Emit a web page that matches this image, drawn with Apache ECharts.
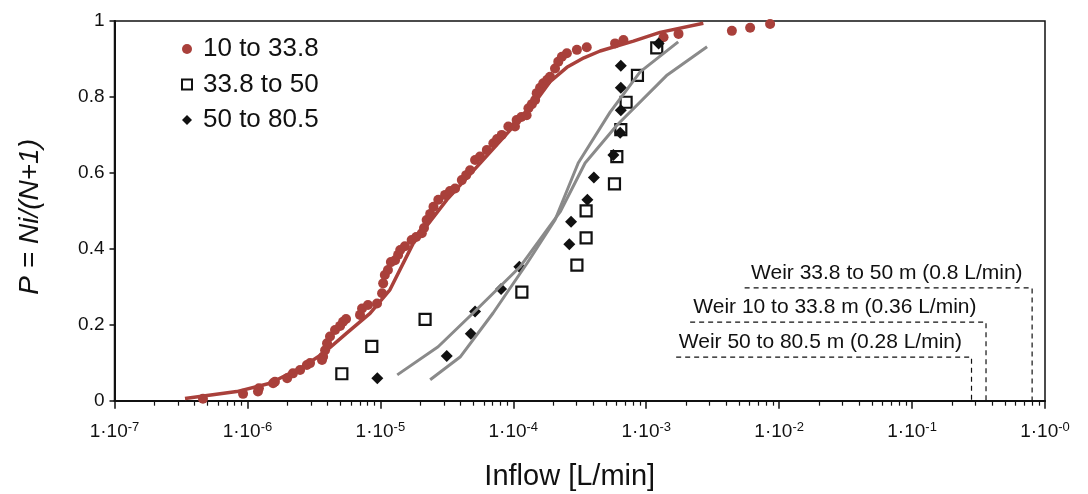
<!DOCTYPE html>
<html>
<head>
<meta charset="utf-8">
<script src="https://cdn.jsdelivr.net/npm/echarts@6/dist/echarts.min.js"></script>
<style>
    html, body { margin: 0; padding: 0; background: #fff; }
    #inflow_chart { width: 1088px; height: 494px; }
</style>
</head>
<body>
<div id="inflow_chart"></div>
<script>
// measured inflow [L/min] vs P = Ni/(N+1), per depth interval
let points10to338 = [
    [4.63e-7, 0.005], [9.27e-7, 0.018], [1.20e-6, 0.024], [1.22e-6, 0.033], [1.56e-6, 0.046],
    [1.61e-6, 0.050], [1.99e-6, 0.059], [2.20e-6, 0.072], [2.49e-6, 0.081], [2.80e-6, 0.094],
    [2.96e-6, 0.099], [3.64e-6, 0.107], [3.71e-6, 0.116], [3.84e-6, 0.133], [3.97e-6, 0.151],
    [4.18e-6, 0.169], [4.56e-6, 0.186], [4.98e-6, 0.197], [5.24e-6, 0.208], [5.52e-6, 0.215],
    [7.03e-6, 0.226], [7.28e-6, 0.243], [8.07e-6, 0.252], [9.44e-6, 0.256], [1.03e-5, 0.283],
    [1.05e-5, 0.309], [1.08e-5, 0.331], [1.14e-5, 0.344], [1.20e-5, 0.365], [1.29e-5, 0.370],
    [1.36e-5, 0.384], [1.41e-5, 0.397], [1.53e-5, 0.407], [1.72e-5, 0.423], [1.86e-5, 0.431],
    [2.05e-5, 0.441], [2.13e-5, 0.455], [2.23e-5, 0.476], [2.37e-5, 0.492], [2.51e-5, 0.511],
    [2.73e-5, 0.529], [3.07e-5, 0.542], [3.34e-5, 0.552], [3.65e-5, 0.559], [4.10e-5, 0.581],
    [4.42e-5, 0.594], [4.73e-5, 0.607], [5.16e-5, 0.634], [5.62e-5, 0.643], [6.32e-5, 0.660],
    [7.08e-5, 0.678], [7.55e-5, 0.689], [8.19e-5, 0.700], [9.18e-5, 0.722], [1.03e-4, 0.722],
    [1.06e-4, 0.739], [1.15e-4, 0.747], [1.26e-4, 0.752], [1.30e-4, 0.770], [1.38e-4, 0.781],
    [1.46e-4, 0.792], [1.50e-4, 0.810], [1.59e-4, 0.824], [1.68e-4, 0.836], [1.80e-4, 0.845],
    [1.89e-4, 0.853], [2.06e-4, 0.875], [2.18e-4, 0.893], [2.32e-4, 0.906], [2.53e-4, 0.915],
    [3.01e-4, 0.924], [3.57e-4, 0.931], [5.83e-4, 0.941], [6.74e-4, 0.950], [1.35e-3, 0.957],
    [1.75e-3, 0.966], [4.41e-3, 0.974], [6.05e-3, 0.982], [8.55e-3, 0.992]
];
let points338to50 = [
    [5.13e-6, 0.071], [8.62e-6, 0.143], [2.17e-5, 0.214], [1.16e-4, 0.286], [3.01e-4, 0.357],
    [3.53e-4, 0.429], [3.53e-4, 0.500], [5.77e-4, 0.571], [6.01e-4, 0.643], [6.44e-4, 0.714],
    [7.06e-4, 0.786], [8.59e-4, 0.857], [1.20e-3, 0.929]
];
let points50to805 = [
    [9.49e-6, 0.059], [3.16e-5, 0.118], [4.79e-5, 0.176], [5.16e-5, 0.235], [8.09e-5, 0.294],
    [1.11e-4, 0.353], [2.64e-4, 0.412], [2.72e-4, 0.471], [3.61e-4, 0.529], [4.04e-4, 0.588],
    [5.66e-4, 0.647], [6.37e-4, 0.706], [6.44e-4, 0.765], [6.44e-4, 0.824], [6.44e-4, 0.882],
    [1.24e-3, 0.941]
];

// fitted distribution curves
let fit10to338 = [
    [3.39e-7, 0.006], [8.31e-7, 0.024], [1.48e-6, 0.046], [2.63e-6, 0.090], [3.73e-6, 0.125],
    [5.58e-6, 0.178], [8.36e-6, 0.230], [1.18e-5, 0.292], [1.77e-5, 0.415], [3.16e-5, 0.529],
    [5.62e-5, 0.625], [1.00e-4, 0.722], [1.50e-4, 0.792], [1.89e-4, 0.840], [2.53e-4, 0.878],
    [3.40e-4, 0.903], [4.50e-4, 0.921], [8.01e-4, 0.947], [1.27e-3, 0.970], [2.69e-3, 0.994]
];
let fitGrayA = [
    [1.34e-5, 0.068], [2.72e-5, 0.142], [4.99e-5, 0.231], [1.12e-4, 0.352], [2.25e-4, 0.497],
    [3.47e-4, 0.626], [6.04e-4, 0.726], [1.44e-3, 0.858], [2.87e-3, 0.932]
];
let fitGrayB = [
    [2.37e-5, 0.055], [3.98e-5, 0.115], [7.05e-5, 0.231], [1.27e-4, 0.362], [2.06e-4, 0.476],
    [3.08e-4, 0.626], [5.35e-4, 0.760], [9.00e-4, 0.866], [1.74e-3, 0.945]
];

// weir measurements
let weirNames = ['Weir 33.8 to 50 m (0.8 L/min)', 'Weir 10 to 33.8 m (0.36 L/min)', 'Weir 50 to 80.5 m (0.28 L/min)'];
let weirFlows = [0.8, 0.36, 0.28];
let weirLevels = [0.297, 0.207, 0.115];
let weirLineStart = [5.5e-3, 2.14e-3, 1.68e-3];

let seriesNames = ['10 to 33.8', '33.8 to 50', '50 to 80.5'];
let xTickExponents = ['-7', '-6', '-5', '-4', '-3', '-2', '-1', '-0'];
let yTicks = [0, 0.2, 0.4, 0.6, 0.8, 1];

let RED = '#a9403b';
let GRAY = '#8a8a8a';
let INK = '#111111';
let FONT = 'Liberation Sans';

function minorTicks() {
    let ticks = [];
    for (let e = -7; e < 0; e++) {
        for (let m = 2; m <= 9; m++) {
            ticks.push(m * Math.pow(10, e));
        }
    }
    return ticks;
}

function xLabel(value) {
    let i = Math.round(Math.log10(value)) + 7;
    return '{b|1·10}{s|' + xTickExponents[i] + '}';
}

function weirSeries() {
    let list = [];
    let labelPoints = [];
    for (let i = 0; i < weirNames.length; i++) {
        list.push({
            type: 'line',
            name: 'weir' + i,
            symbol: 'none',
            silent: true,
            lineStyle: { color: INK, width: 1.2, type: [5, 4] },
            data: [
                [weirLineStart[i], weirLevels[i]],
                [weirFlows[i], weirLevels[i]],
                [weirFlows[i], 0]
            ]
        });
        labelPoints.push([weirFlows[i], weirLevels[i]]);
    }
    // text above each dashed line, right aligned to the weir value
    list.push({
        type: 'scatter',
        name: 'weirText',
        silent: true,
        symbolSize: 1,
        itemStyle: { color: 'rgba(0,0,0,0)', opacity: 1 },
        label: {
            show: true,
            position: 'left',
            distance: 9,
            offset: [0, -15],
            formatter: function (p) { return weirNames[p.dataIndex]; },
            fontFamily: FONT,
            fontSize: 21,
            color: INK
        },
        data: labelPoints
    });
    return list;
}

function drawChart() {
    let chart = echarts.init(document.getElementById('inflow_chart'));
    let option = {
        animation: false,
        backgroundColor: '#fff',
        textStyle: { fontFamily: FONT, color: INK },
        grid: {
            left: 114.5, right: 43, top: 21, bottom: 93.3,
            outerBoundsMode: 'none',
            containLabel: false,
            show: true, borderColor: INK, borderWidth: 1.5
        },
        legend: {
            data: seriesNames,
            orient: 'vertical',
            left: 176,
            top: 31,
            itemGap: 9.5,
            itemWidth: 10,
            itemHeight: 10,
            textStyle: { fontFamily: FONT, fontSize: 26, color: INK, padding: [0, 0, 0, 6] }
        },
        xAxis: [{
            type: 'log',
            logBase: 10,
            min: 1e-7,
            max: 1,
            name: 'Inflow [L/min]',
            nameLocation: 'middle',
            nameGap: 62,
            nameTextStyle: { fontSize: 29, color: INK, padding: [0, 20, 0, 0] },
            axisLine: { lineStyle: { color: INK, width: 2 } },
            axisTick: { length: 8, lineStyle: { color: INK, width: 1.5 } },
            splitLine: { show: false },
            axisLabel: {
                margin: 20,
                formatter: xLabel,
                rich: {
                    b: { fontSize: 19, color: INK, fontFamily: FONT },
                    s: { fontSize: 13, color: INK, fontFamily: FONT, verticalAlign: 'top', padding: [0, 0, 10, 0] }
                }
            }
        }, {
            // minor ticks 2..9 of each decade
            type: 'log',
            logBase: 10,
            min: 1e-7,
            max: 1,
            gridIndex: 0,
            position: 'bottom',
            axisLine: { show: false },
            axisLabel: { show: false },
            splitLine: { show: false },
            axisTick: { length: 5, customValues: minorTicks(), lineStyle: { color: INK, width: 1.2 } }
        }],
        yAxis: {
            type: 'value',
            min: 0,
            max: 1,
            interval: 0.2,
            name: 'P = Ni/(N+1)',
            nameLocation: 'middle',
            nameGap: 70,
            nameTextStyle: { fontSize: 28, fontStyle: 'italic', color: INK, padding: [0, 12, 0, 0] },
            axisLine: { show: true, lineStyle: { color: INK, width: 2 } },
            axisTick: { show: true, length: 5, lineStyle: { color: INK, width: 1.5 } },
            splitLine: { show: false },
            axisLabel: {
                margin: 10,
                fontSize: 19,
                color: INK,
                formatter: function (v) {
                    let i = yTicks.indexOf(Math.round(v * 10) / 10);
                    return i < 0 ? '' : String(yTicks[i]);
                }
            }
        },
        series: [{
            type: 'scatter',
            name: seriesNames[0],
            symbol: 'circle',
            symbolSize: 10,
            itemStyle: { color: RED, opacity: 1 },
            data: points10to338
        }, {
            type: 'scatter',
            name: seriesNames[1],
            symbol: 'rect',
            symbolSize: 11,
            itemStyle: { color: '#fff', borderColor: INK, borderWidth: 2.2, opacity: 1 },
            data: points338to50
        }, {
            type: 'scatter',
            name: seriesNames[2],
            symbol: 'diamond',
            symbolSize: 12,
            itemStyle: { color: INK, opacity: 1 },
            data: points50to805
        }, {
            type: 'line',
            name: 'fit1',
            symbol: 'none',
            lineStyle: { color: RED, width: 3.5 },
            data: fit10to338
        }, {
            type: 'line',
            name: 'fit2',
            symbol: 'none',
            lineStyle: { color: GRAY, width: 3 },
            data: fitGrayA
        }, {
            type: 'line',
            name: 'fit3',
            symbol: 'none',
            lineStyle: { color: GRAY, width: 3 },
            data: fitGrayB
        }].concat(weirSeries())
    };
    chart.setOption(option);
}

drawChart();
</script>
</body>
</html>
